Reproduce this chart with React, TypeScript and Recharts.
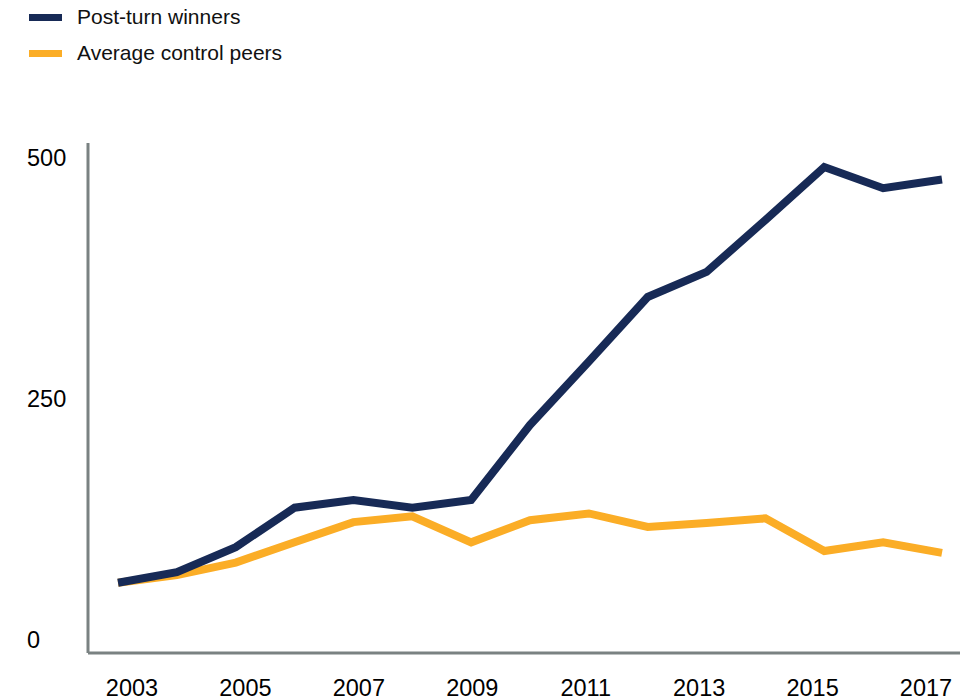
import React from 'react';
import { LineChart, Line, XAxis, YAxis } from 'recharts';

const years = [2003, 2004, 2005, 2006, 2007, 2008, 2009, 2010, 2011, 2012, 2013, 2014, 2015, 2016, 2017];
const winners = [59, 70, 96, 137, 145, 137, 145, 223, 289, 356, 382, 436, 491, 469, 478];
const peers = [59, 67, 80, 101, 122, 128, 101, 124, 131, 117, 121, 126, 92, 101, 90];
const xTicks = [2003, 2005, 2007, 2009, 2011, 2013, 2015, 2017];
const yTicks = [0, 250, 500];
const seriesNames = ['Post-turn winners', 'Average control peers'];
const seriesColors = ['#172a56', '#fbad26'];

const data = years.map((y, i) => ({ year: y, winners: winners[i], peers: peers[i] }));

const FONT = '"Liberation Sans", Arial, sans-serif';

const YTick = (props: any) => {
  const { y, payload } = props;
  return (
    <text x={27} y={y} dy={8} textAnchor="start" fontSize={23.5} fill="#000" fontFamily={FONT}>
      {payload.value}
    </text>
  );
};

export default function App() {
  return (
    <div style={{ position: 'absolute', left: 0, top: 0, width: 964, height: 698, background: '#fff', fontFamily: FONT }}>
      <div style={{ position: 'absolute', left: 0, top: 0 }}>
        {seriesNames.map((n, i) => (
          <div key={n} style={{ position: 'absolute', left: 29, top: 5 + i * 36, display: 'flex', alignItems: 'center', whiteSpace: 'nowrap' }}>
            <div style={{ width: 33, height: 7, background: seriesColors[i] }} />
            <span style={{ marginLeft: 15, fontSize: 21, color: '#111', lineHeight: '24px' }}>{n}</span>
          </div>
        ))}
      </div>
      <LineChart width={964} height={698} data={data} margin={{ top: 143, right: 4, bottom: 15, left: 0 }}>
        <XAxis
          xAxisId="data"
          dataKey="year"
          type="number"
          domain={[2003, 2017]}
          padding={{ left: 30, right: 18 }}
          height={0}
          hide
        />
        <XAxis
          xAxisId="labels"
          dataKey="year"
          type="number"
          domain={[2003, 2017]}
          ticks={xTicks}
          height={30}
          padding={{ left: 44, right: 34 }}
          axisLine={{ stroke: '#7a8282', strokeWidth: 3 }}
          tickLine={false}
          tickMargin={20}
          tick={{ fontSize: 23.5, fill: '#000', fontFamily: FONT }}
          interval={0}
        />
        <YAxis
          domain={[-14, 516]}
          ticks={yTicks}
          width={88}
          axisLine={{ stroke: '#7a8282', strokeWidth: 3 }}
          tickLine={false}
          tick={<YTick />}
          interval={0}
        />
        <Line xAxisId="data" dataKey="peers" stroke={seriesColors[1]} strokeWidth={8} dot={false} isAnimationActive={false} strokeLinejoin="miter" />
        <Line xAxisId="data" dataKey="winners" stroke={seriesColors[0]} strokeWidth={8} dot={false} isAnimationActive={false} strokeLinejoin="miter" />
      </LineChart>
    </div>
  );
}
